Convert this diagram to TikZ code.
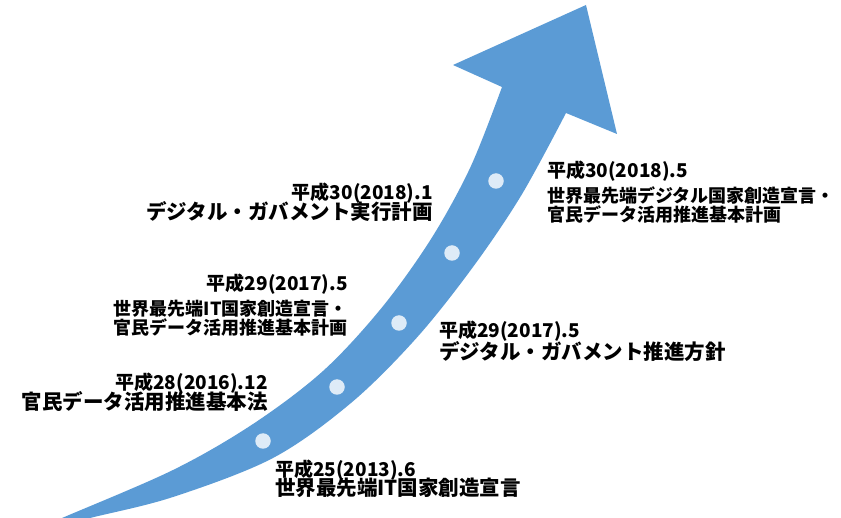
\documentclass[tikz,border=0pt]{standalone}
\usepackage{fontspec}
\newfontfamily\jp{Noto Sans CJK JP}
\definecolor{arrowblue}{HTML}{5B9BD5}
\definecolor{dotblue}{HTML}{DEEBF7}
\begin{document}
\begin{tikzpicture}[x=1pt,y=-1pt,
  datetxt/.style={font=\jp\bfseries\fontsize{19}{21}\selectfont, inner sep=0pt},
  bigtxt/.style={font=\jp\bfseries\fontsize{20.5}{22}\selectfont, inner sep=0pt},
  smalltxt/.style={font=\jp\bfseries\fontsize{18}{20}\selectfont, inner sep=0pt},
  dotmark/.style={circle, fill=dotblue, inner sep=0pt, minimum size=15.5pt}]
\useasboundingbox (0,0) rectangle (841,518);
\clip (0,0) rectangle (841,518);
% arrow
\fill[arrowblue]
  plot[smooth, tension=0.55] coordinates {(25,534) (62,518) (173,470) (253,424) (323,371) (381.5,308) (431,239) (470.5,167) (502,87)}
  -- (453,65) -- (586,5) -- (617,134) -- (566,113)
  -- plot[smooth, tension=0.55] coordinates {(566,113) (521.5,195) (473,267) (416.5,338) (351,403) (273,458) (173,497) (90,518) (25,534)}
  -- cycle;
% dots
\node[dotmark] (d1) at (263,441) {};
\node[dotmark] (d2) at (337,387) {};
\node[dotmark] (d3) at (399,323) {};
\node[dotmark] (d4) at (452,253) {};
\node[dotmark] (d5) at (496,181) {};
% texts
\node[datetxt, anchor=base west] (a1) at (547,178) {平成30(2018).5};
\node[smalltxt, anchor=base west] (a2) at (547,203) {世界最先端デジタル国家創造宣言・};
\node[smalltxt, anchor=base west] (a3) at (547,222) {官民データ活用推進基本計画};
\node[datetxt, anchor=base east] (b1) at (433,200) {平成30(2018).1};
\node[bigtxt, anchor=base east] (b2) at (433,220) {デジタル・ガバメント実行計画};
\node[datetxt, anchor=base east] (c1) at (348,291) {平成29(2017).5};
\node[smalltxt, anchor=base east] (c2) at (348,316) {世界最先端IT国家創造宣言・};
\node[smalltxt, anchor=base east] (c3) at (348,335) {官民データ活用推進基本計画};
\node[datetxt, anchor=base west] (e1) at (439,338) {平成29(2017).5};
\node[bigtxt, anchor=base west] (e2) at (439,360) {デジタル・ガバメント推進方針};
\node[datetxt, anchor=base east] (f1) at (268,390) {平成28(2016).12};
\node[bigtxt, anchor=base east] (f2) at (268,410) {官民データ活用推進基本法};
\node[datetxt, anchor=base west] (g1) at (275,476) {平成25(2013).6};
\node[bigtxt, anchor=base west] (g2) at (275,496) {世界最先端IT国家創造宣言};
\end{tikzpicture}
\end{document}
